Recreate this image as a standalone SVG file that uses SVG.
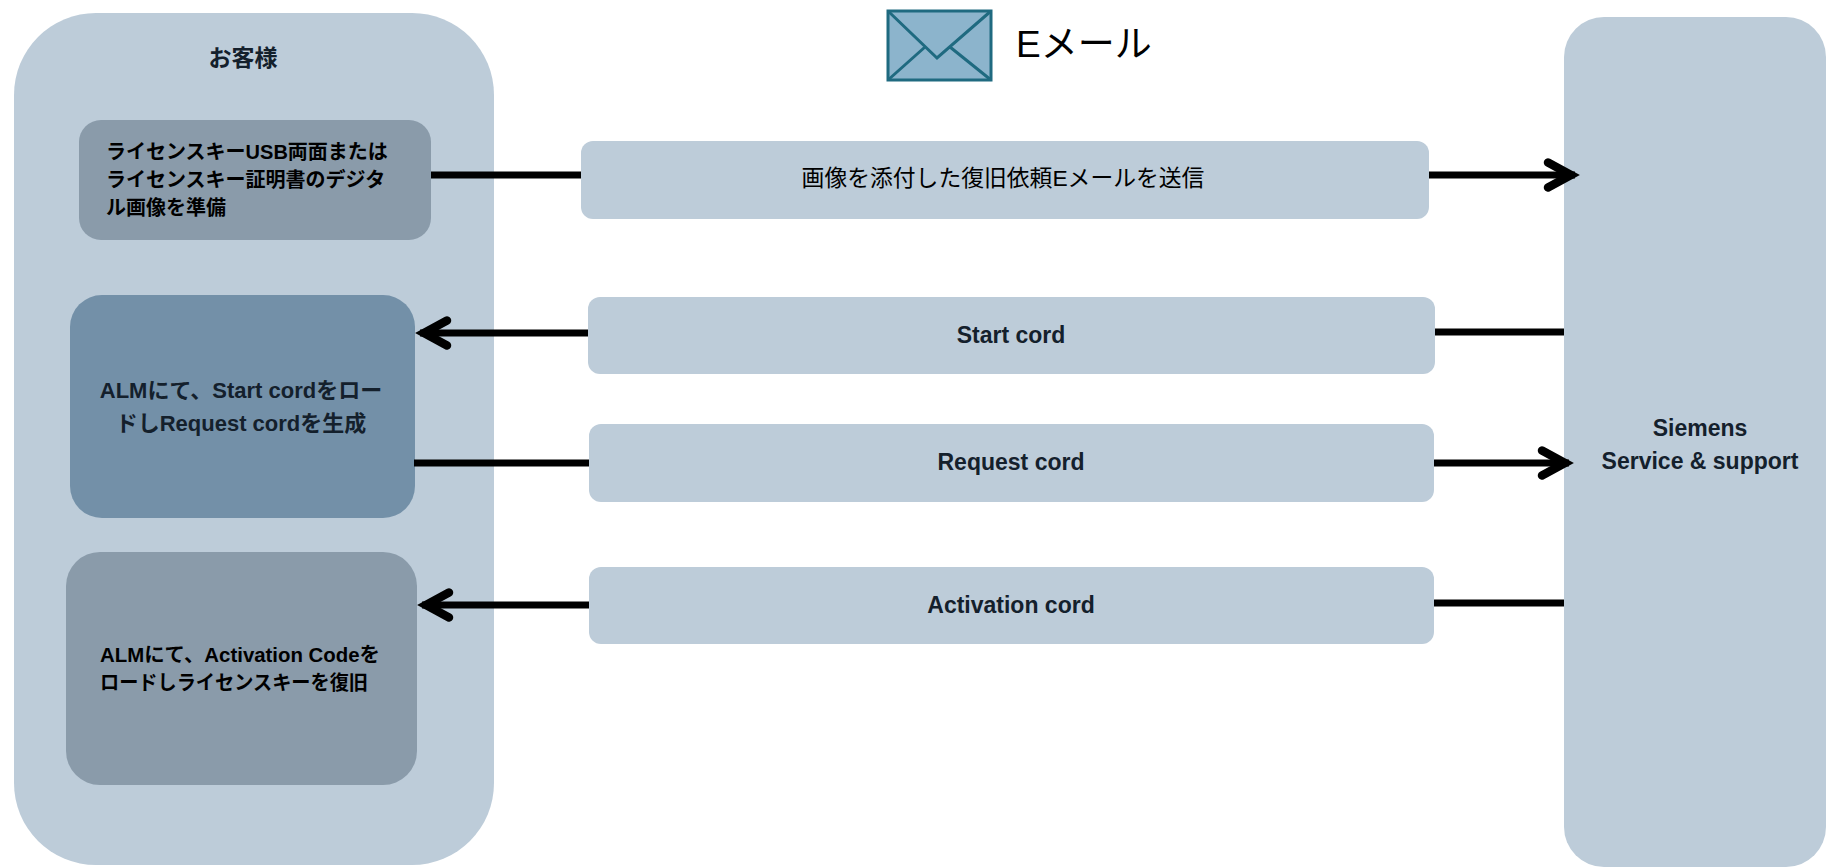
<svg xmlns="http://www.w3.org/2000/svg" width="1826" height="867" viewBox="0 0 1826 867">
<style>
text{font-family:"Liberation Sans","Noto Sans CJK JP",sans-serif;fill:#000}
.b{font-weight:700}
.m{font-size:20px}
.n{font-size:22px}
.l{font-size:23px}
.c{text-anchor:middle}
.d{fill:#14202c}
.pale{fill:#bdccd9}
.grey{fill:#8a9baa}
.conn{stroke:#000;stroke-width:7;fill:none}
.arr{marker-end:url(#chev)}
</style>
<defs>
<marker id="chev" markerUnits="userSpaceOnUse" markerWidth="40" markerHeight="44" viewBox="-32 -22 40 44" refX="4" refY="0" orient="auto" overflow="visible">
<path d="M-23,-12.5 L0,0 L-23,12.5" fill="none" stroke="#000" stroke-width="8.5" stroke-linecap="round" stroke-linejoin="miter"/>
</marker>
</defs>
<rect width="1826" height="867" fill="#fff"/>
<g id="customer">
<rect class="pale" x="14" y="13" width="480" height="852" rx="82" ry="82"/>
<text class="b c d" x="243" y="66" font-size="23">お客様</text>
</g>
<g id="siemens">
<rect class="pale" x="1564" y="17" width="262" height="850" rx="40" ry="40"/>
<text class="b c d l" x="1700" y="436">Siemens</text>
<text class="b c d l" x="1700" y="469">Service &amp; support</text>
</g>
<g id="prepare">
<rect class="grey" x="79" y="120" width="352" height="120" rx="22" ry="22"/>
<text class="b m" x="106" y="159">ライセンスキーUSB両面または</text>
<text class="b m" x="106" y="187">ライセンスキー証明書のデジタ</text>
<text class="b m" x="106" y="215">ル画像を準備</text>
</g>
<g id="alm-request">
<rect x="70" y="295" width="345" height="223" rx="32" ry="32" fill="#7390a8"/>
<text class="b c d n" x="241" y="398">ALMにて、Start cordをロー</text>
<text class="b c d n" x="241" y="431">ドしRequest cordを生成</text>
</g>
<g id="alm-activate">
<rect class="grey" x="66" y="552" width="351" height="233" rx="34" ry="34"/>
<text class="b m" x="100" y="662" textLength="280" lengthAdjust="spacingAndGlyphs">ALMにて、Activation Codeを</text>
<text class="b m" x="100" y="690" textLength="268" lengthAdjust="spacingAndGlyphs">ロードしライセンスキーを復旧</text>
</g>
<g id="email-icon">
<rect x="888" y="11" width="103" height="69" fill="#8cb4cc" stroke="#1f6a80" stroke-width="3"/>
<path d="M888,11 L937,58 L991,11 M888,80 L925,47 M991,80 L950,47" fill="none" stroke="#1f6a80" stroke-width="3"/>
<text x="1016" y="57" font-size="37">Eメール</text>
</g>
<g id="send-email">
<rect class="pale" x="581" y="141" width="848" height="78" rx="12" ry="12"/>
<text class="c" font-size="22.8" x="1003" y="186">画像を添付した復旧依頼Eメールを送信</text>
</g>
<g id="start-cord">
<rect class="pale" x="588" y="297" width="847" height="77" rx="12" ry="12"/>
<text class="b c d l" x="1011" y="343">Start cord</text>
</g>
<g id="request-cord">
<rect class="pale" x="589" y="424" width="845" height="78" rx="12" ry="12"/>
<text class="b c d l" x="1011" y="470">Request cord</text>
</g>
<g id="activation-cord">
<rect class="pale" x="589" y="567" width="845" height="77" rx="12" ry="12"/>
<text class="b c d l" x="1011" y="613">Activation cord</text>
</g>
<g id="connectors">
<line class="conn" x1="431" y1="175" x2="581" y2="175"/>
<line class="conn arr" x1="1429" y1="175" x2="1575" y2="175"/>
<line class="conn" x1="1435" y1="332" x2="1564" y2="332"/>
<line class="conn arr" x1="588" y1="333" x2="420" y2="333"/>
<line class="conn" x1="414" y1="463" x2="589" y2="463"/>
<line class="conn arr" x1="1434" y1="463" x2="1569" y2="463"/>
<line class="conn" x1="1434" y1="603" x2="1564" y2="603"/>
<line class="conn arr" x1="589" y1="605" x2="422" y2="605"/>
</g>
</svg>
